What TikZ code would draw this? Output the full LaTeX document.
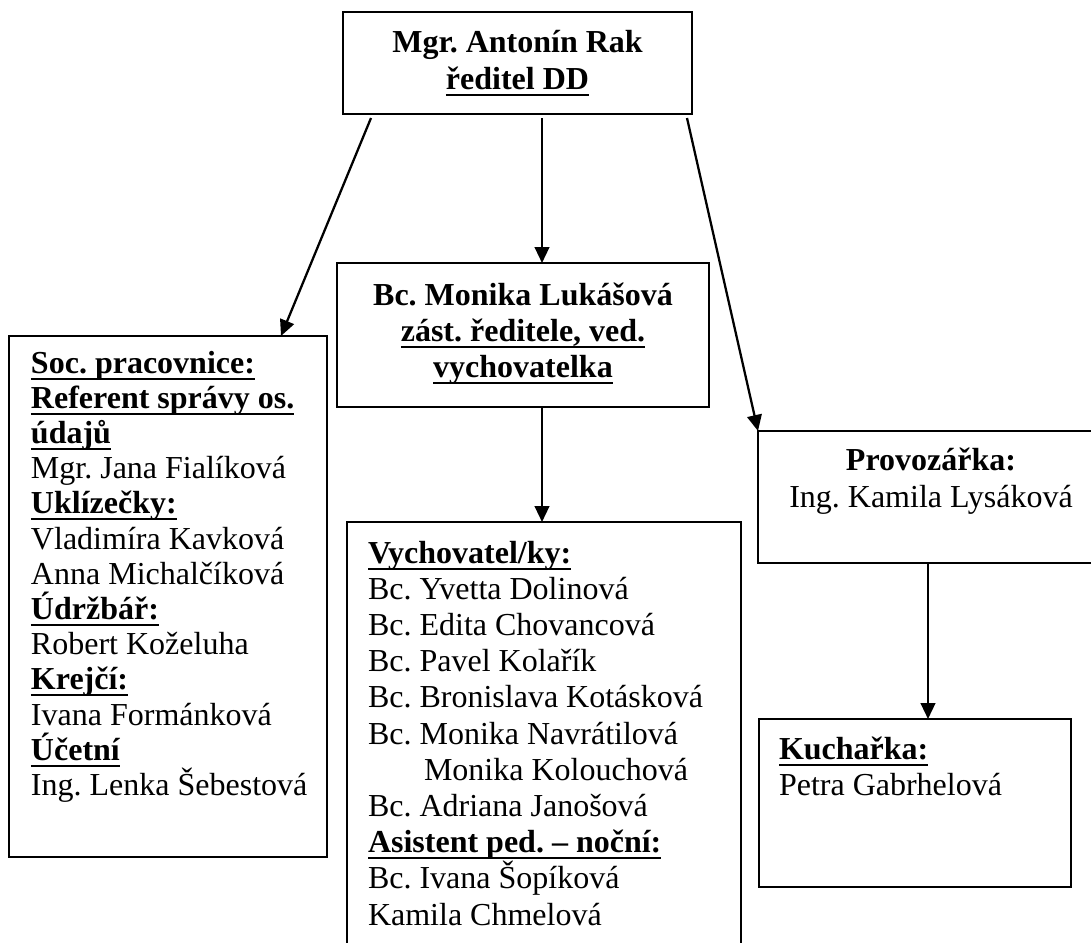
\documentclass[tikz,border=0pt]{standalone}
\usepackage{fontspec}
\setmainfont{Liberation Serif}
\usetikzlibrary{arrows.meta,calc}
\frenchspacing
\newcommand{\myul}[1]{\leavevmode\begingroup\setbox0=\hbox{#1}\rlap{\rule[-5pt]{\wd0}{1.6pt}}\box0\endgroup}
\newcommand{\hd}[1]{\textbf{\myul{#1}}}
\begin{document}
\frenchspacing
\begin{tikzpicture}[x=0.75pt,y=-0.75pt,
  box/.style={draw,line width=1.4pt,inner sep=0pt,outer sep=0pt},
  arr/.style={line width=1.7pt,-{Triangle[length=12pt,width=11pt]}},
  txt/.style={inner sep=0pt,outer sep=0pt}]
\useasboundingbox (0,0) rectangle (1091,942);
% boxes
\node[box,minimum width=349*0.75pt,minimum height=102*0.75pt] (rak) at (517.5,63) {};
\node[box,minimum width=372*0.75pt,minimum height=144*0.75pt] (luk) at (523,335) {};
\node[box,minimum width=318*0.75pt,minimum height=521*0.75pt] (soc) at (168,596.5) {};
\node[box,minimum width=394*0.75pt,minimum height=438*0.75pt] (vych) at (544,741) {};
\node[box,minimum width=352*0.75pt,minimum height=132*0.75pt] (prov) at (934,497) {};
\node[box,minimum width=312*0.75pt,minimum height=168*0.75pt] (kuch) at (915,803) {};
% texts
\node[txt,anchor=base] (raktxt) at (517.5,53) {\parbox[t]{340pt}{\centering\fontsize{24}{27.4}\selectfont\bfseries Mgr. Antonín Rak\\\myul{ředitel DD}}};
\node[txt,anchor=base] (luktxt) at (523,305) {\parbox[t]{340pt}{\centering\fontsize{24}{27}\selectfont\bfseries Bc. Monika Lukášová\\\myul{zást. ředitele, ved.}\\\myul{vychovatelka}}};
\node[txt,anchor=base west] (soctxt) at (31,373) {\parbox[t]{300pt}{\raggedright\fontsize{24}{26.4}\selectfont
\hd{Soc. pracovnice:}\\
\hd{Referent správy os.}\\
\hd{údajů}\\
Mgr. Jana Fialíková\\
\hd{Uklízečky:}\\
Vladimíra Kavková\\
Anna Michalčíková\\
\hd{Údržbář:}\\
Robert Koželuha\\
\hd{Krejčí:}\\
Ivana Formánková\\
\hd{Účetní}\\
Ing. Lenka Šebestová}};
\node[txt,anchor=base west] (vychtxt) at (368,563) {\parbox[t]{300pt}{\raggedright\fontsize{24}{27.15}\selectfont
\hd{Vychovatel/ky:}\\
Bc. Yvetta Dolinová\\
Bc. Edita Chovancová\\
Bc. Pavel Kolařík\\
Bc. Bronislava Kotásková\\
Bc. Monika Navrátilová\\
\hspace*{42pt}Monika Kolouchová\\
Bc. Adriana Janošová\\
\hd{Asistent ped. – noční:}\\
Bc. Ivana Šopíková\\
Kamila Chmelová}};
\node[txt,anchor=base] (provtxt) at (931,470) {\parbox[t]{300pt}{\centering\fontsize{24}{28}\selectfont
\textbf{Provozářka:}\\
Ing. Kamila Lysáková}};
\node[txt,anchor=base west] (kuchtxt) at (779,759) {\parbox[t]{280pt}{\raggedright\fontsize{24}{27}\selectfont
\hd{Kuchařka:}\\
Petra Gabrhelová}};
% connectors
\draw[arr] ($(rak.south west)+(28,4)$) -- ($(soc.north east)+(-46,0)$);
\draw[arr] ($(rak.south west)+(199,4)$) -- ($(luk.north west)+(205,0)$);
\draw[arr] ($(rak.south east)+(-5,4)$) -- (prov.north west);
\draw[arr] ($(luk.south west)+(205,0)$) -- ($(vych.north west)+(195,0)$);
\draw[arr] ($(prov.south west)+(170,0)$) -- ($(kuch.north west)+(169,0)$);
\end{tikzpicture}
\end{document}
